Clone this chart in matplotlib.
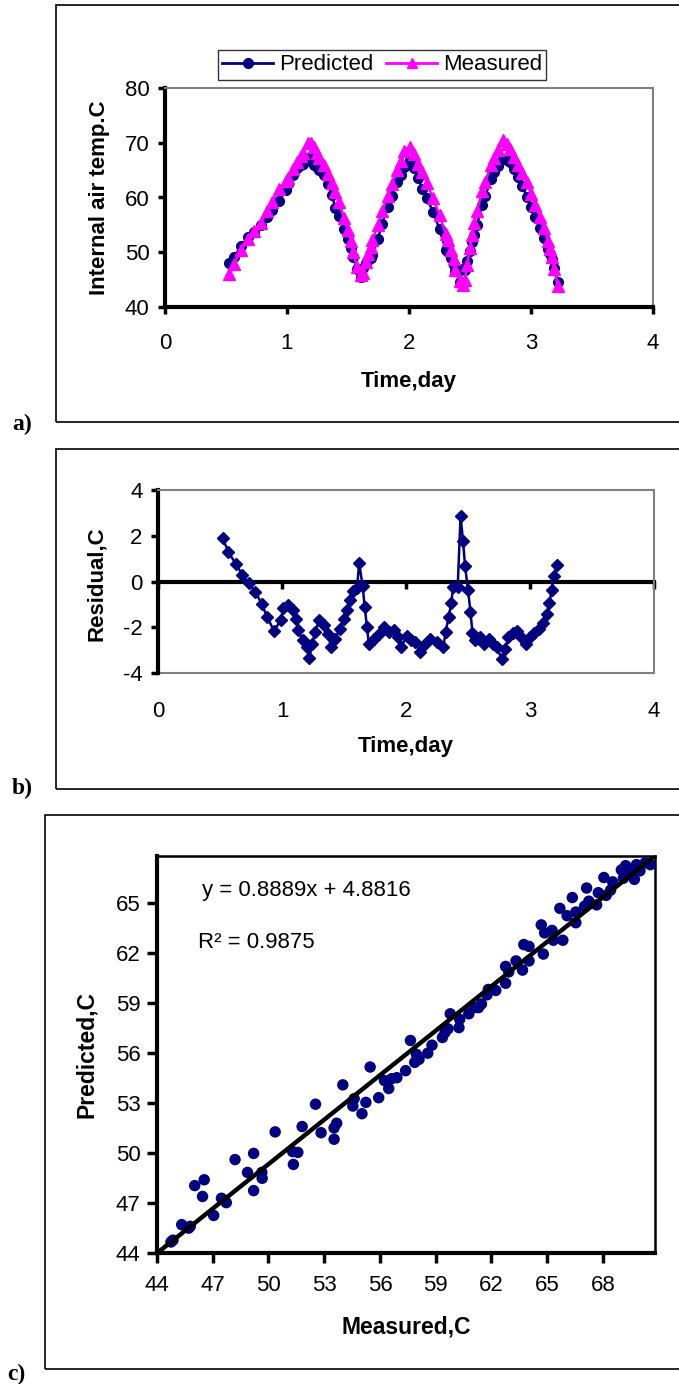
import numpy as np
import matplotlib
matplotlib.use("Agg")
import matplotlib.pyplot as plt
from matplotlib.lines import Line2D
from matplotlib.patches import Rectangle

plt.rcParams["font.family"] = ["Liberation Sans", "DejaVu Sans"]
plt.rcParams["axes.unicode_minus"] = False

# --- data --------------------------------------------------------------------
time_day = [0.523, 0.568, 0.627, 0.680, 0.730, 0.785, 0.837, 0.880, 0.935, 0.990,
            1.010, 1.046, 1.085, 1.116, 1.130, 1.170, 1.200, 1.220, 1.245, 1.266,
            1.300, 1.336, 1.370, 1.395, 1.430, 1.465, 1.500, 1.524, 1.545, 1.570,
            1.605, 1.622, 1.650, 1.667, 1.685, 1.700, 1.744, 1.780, 1.824, 1.860,
            1.900, 1.936, 1.960, 2.005, 2.040, 2.075, 2.110, 2.145, 2.197, 2.250,
            2.300, 2.320, 2.344, 2.365, 2.380, 2.417, 2.440, 2.460, 2.476, 2.500,
            2.520, 2.536, 2.557, 2.600, 2.626, 2.670, 2.700, 2.730, 2.773, 2.800,
            2.826, 2.860, 2.895, 2.930, 2.965, 3.000, 3.035, 3.070, 3.104, 3.140,
            3.157, 3.174, 3.190, 3.220]

measured = [46.1, 47.9, 50.4, 52.5, 53.8, 55.4, 57.5, 59.2, 61.6, 63.0,
            63.6, 65.2, 66.5, 67.6, 68.2, 69.9, 70.0, 69.2, 68.2, 67.3,
            65.9, 64.3, 62.7, 61.0, 59.1, 56.3, 54.0, 52.0, 50.0, 47.3,
            45.8, 46.3, 48.2, 49.6, 51.0, 52.2, 54.9, 57.5, 60.3, 62.5,
            65.0, 66.6, 68.5, 69.3, 67.9, 66.2, 64.6, 62.7, 59.9, 56.8,
            53.4, 52.2, 50.5, 48.7, 46.8, 44.8, 44.0, 45.0, 47.7, 50.7,
            53.2, 55.4, 57.6, 61.1, 62.9, 65.9, 67.3, 68.7, 70.5, 69.8,
            68.8, 67.4, 65.9, 64.5, 62.8, 60.7, 58.6, 56.5, 54.4, 52.0,
            50.6, 49.2, 47.0, 43.8]

predicted = [48.0, 49.2, 51.2, 52.8, 53.7, 55.0, 56.5, 57.7, 59.4, 61.3,
             62.4, 64.2, 65.3, 66.0, 66.1, 67.3, 67.1, 65.9, 65.5, 65.1,
             64.2, 62.4, 60.4, 58.1, 56.6, 54.2, 52.4, 50.8, 49.2, 46.9,
             45.5, 47.1, 48.0, 48.5, 49.0, 49.5, 52.4, 55.2, 58.3, 60.3,
             62.9, 64.2, 65.6, 66.9, 65.3, 63.6, 61.5, 59.9, 57.4, 54.2,
             50.5, 50.0, 49.0, 47.7, 46.6, 44.6, 46.9, 46.8, 48.4, 50.3,
             51.9, 53.2, 55.0, 58.7, 60.2, 63.4, 64.6, 65.8, 67.1, 66.9,
             66.4, 65.2, 63.7, 62.1, 60.1, 58.3, 56.4, 54.4, 52.6, 50.6,
             49.6, 48.8, 47.2, 44.5]

residual = [1.88, 1.28, 0.78, 0.29, -0.07, -0.44, -0.99, -1.54, -2.16, -1.69,
            -1.18, -1.03, -1.25, -1.62, -2.13, -2.57, -2.87, -3.34, -2.72, -2.20,
            -1.69, -1.91, -2.28, -2.87, -2.50, -2.06, -1.62, -1.25, -0.81, -0.41,
            -0.29, 0.81, -0.19, -1.10, -1.99, -2.72, -2.50, -2.28, -2.01, -2.20,
            -2.13, -2.43, -2.87, -2.40, -2.57, -2.65, -3.09, -2.79, -2.50, -2.65,
            -2.87, -2.20, -1.54, -0.96, -0.22, -0.22, 2.87, 1.76, 0.69, -0.37,
            -1.32, -2.25, -2.57, -2.43, -2.75, -2.50, -2.72, -2.87, -3.38, -2.94,
            -2.43, -2.25, -2.16, -2.43, -2.72, -2.43, -2.25, -2.06, -1.81, -1.40,
            -0.96, -0.37, 0.22, 0.74]

scatter_measured = [44.75, 44.86, 45.33, 45.70, 45.79, 46.03, 46.45, 46.54, 47.05, 47.47,
                    47.73, 48.20, 48.87, 49.20, 49.20, 49.64, 49.66, 50.36, 51.30, 51.34,
                    51.58, 51.81, 52.53, 52.83, 53.53, 53.67, 53.53, 54.00, 54.54, 54.61,
                    55.03, 55.24, 55.47, 55.93, 56.24, 56.47, 56.63, 56.91, 57.38, 57.64,
                    57.87, 57.96, 58.10, 58.57, 58.80, 59.36, 59.50, 59.66, 59.78, 60.25,
                    60.29, 60.78, 61.06, 61.30, 61.46, 61.76, 61.83, 62.23, 62.76, 62.76,
                    62.93, 63.32, 63.67, 63.74, 64.02, 64.02, 64.79, 64.68, 64.86, 65.26,
                    65.33, 65.84, 65.68, 66.07, 66.35, 66.54, 66.54, 67.01, 67.12, 67.24,
                    67.66, 67.75, 68.05, 68.17, 68.41, 68.52, 68.99, 69.10, 69.45, 69.69,
                    69.80, 69.99, 70.27, 70.55, 69.22]
scatter_predicted = [44.66, 44.77, 45.70, 45.49, 45.60, 48.04, 47.39, 48.39, 46.25, 47.28,
                     47.02, 49.60, 48.83, 49.97, 47.74, 48.83, 48.48, 51.26, 50.08, 49.31,
                     50.03, 51.58, 52.92, 51.21, 51.50, 51.78, 50.82, 54.08, 52.81, 53.25,
                     52.35, 53.03, 55.15, 53.31, 54.34, 53.86, 54.45, 54.51, 54.93, 56.74,
                     55.43, 55.91, 55.61, 55.98, 56.46, 56.92, 57.22, 57.44, 58.34, 57.51,
                     58.01, 58.34, 58.71, 58.71, 58.93, 59.48, 59.80, 59.74, 60.17, 61.18,
                     60.85, 61.51, 60.96, 62.49, 62.38, 61.51, 61.92, 63.67, 63.19, 63.34,
                     62.75, 62.75, 64.66, 64.22, 65.31, 64.44, 63.80, 64.79, 65.88, 65.09,
                     64.87, 65.60, 66.51, 65.44, 65.75, 66.25, 66.97, 66.47, 66.91, 66.40,
                     67.28, 66.91, 67.39, 67.28, 67.22]

fit_slope = 0.8889
fit_intercept = 4.8816
r_squared = 0.9875

NAVY = "#000080"
MAGENTA = "#FF00FF"
GREY = "#808080"
TICK_FS = 16

W, H = 679, 1384


def box(l, t, r, b):
    return [l / W, 1 - b / H, (r - l) / W, (b - t) / H]


fig = plt.figure(figsize=(W / 100, H / 100), dpi=100, facecolor="white")

# outer frames round each panel
for (l, t, b) in [(56, 5, 422), (56, 449, 789), (45, 815, 1369)]:
    fig.patches.append(Rectangle((l / W, 1 - b / H), 1.2, (b - t) / H,
                                 transform=fig.transFigure, fill=False,
                                 edgecolor="black", linewidth=1.2))

for lab, x, y in [("a)", 22, 424), ("b)", 22, 788), ("c)", 16, 1374)]:
    fig.text(x / W, 1 - y / H, lab, family=["Liberation Serif", "DejaVu Serif"],
             weight="bold", fontsize=17, ha="center", va="center")


def excel_frame(ax):
    for s in ["top", "right"]:
        ax.spines[s].set_color(GREY)
        ax.spines[s].set_linewidth(1.5)
    ax.spines["left"].set_linewidth(3)
    ax.tick_params(axis="y", direction="out", length=5, width=2.5,
                   labelsize=TICK_FS, pad=6)


# --- a) internal air temperature ---------------------------------------------
ax_a = fig.add_axes(box(165, 88, 653, 307))
ax_a.plot(time_day, predicted, color=NAVY, lw=1.8, marker="o", ms=7,
          mec=NAVY, mfc=NAVY, zorder=3)
ax_a.plot(time_day, measured, color=MAGENTA, lw=1.8, marker="^", ms=8,
          mec=MAGENTA, mfc=MAGENTA, zorder=4)
ax_a.set_xlim(0, 4)
ax_a.set_ylim(40, 80)
ax_a.set_xticks([0, 1, 2, 3, 4])
ax_a.set_yticks([40, 50, 60, 70, 80])
excel_frame(ax_a)
ax_a.spines["bottom"].set_linewidth(3)
ax_a.tick_params(axis="x", direction="out", length=5, width=2.5,
                 labelsize=TICK_FS, pad=14)
ax_a.set_xlabel("Time,day", fontsize=16, weight="bold", va="center")
ax_a.xaxis.set_label_coords(0.5, -0.338)
ax_a.set_ylabel("Internal air temp.C", fontsize=16, weight="bold", va="center")
ax_a.yaxis.set_label_coords(-0.135, 0.5)

handles = [Line2D([], [], color=NAVY, lw=2, marker="o", ms=7, label="Predicted"),
           Line2D([], [], color=MAGENTA, lw=2, marker="^", ms=7, label="Measured")]
leg = fig.legend(handles=handles, loc="center", ncol=2,
                 bbox_to_anchor=(382 / W, 1 - 65 / H), fontsize=16,
                 frameon=True, fancybox=False, edgecolor="black",
                 handlelength=2.3, handletextpad=0.25, columnspacing=0.6,
                 borderpad=0.2, borderaxespad=0)
leg.get_frame().set_linewidth(1.0)

# --- b) residual --------------------------------------------------------------
ax_b = fig.add_axes(box(158, 490, 654, 673))
ax_b.plot(time_day, residual, color=NAVY, lw=1.8, marker="D", ms=6.5,
          mec=NAVY, mfc=NAVY, zorder=3)
ax_b.set_xlim(0, 4)
ax_b.set_ylim(-4, 4)
ax_b.set_xticks([0, 1, 2, 3, 4])
ax_b.set_yticks([-4, -2, 0, 2, 4])
excel_frame(ax_b)
ax_b.spines["bottom"].set_position(("data", 0))
ax_b.spines["bottom"].set_linewidth(3)
ax_b.spines["bottom"].set_zorder(2)
ax_b.tick_params(axis="x", direction="out", length=5, width=2.5,
                 labelbottom=False)
sec = ax_b.secondary_xaxis(0.0)
sec.set_xticks([0, 1, 2, 3, 4])
sec.spines["bottom"].set_color(GREY)
sec.spines["bottom"].set_linewidth(1.5)
sec.tick_params(axis="x", length=0, labelsize=TICK_FS, pad=20)
ax_b.set_xlabel("Time,day", fontsize=16, weight="bold", va="center")
ax_b.xaxis.set_label_coords(0.5, -0.404)
ax_b.set_ylabel("Residual,C", fontsize=16, weight="bold", va="center")
ax_b.yaxis.set_label_coords(-0.123, 0.486)

# --- c) predicted vs measured -------------------------------------------------
ax_c = fig.add_axes(box(157, 856, 655, 1253))
ax_c.scatter(scatter_measured, scatter_predicted, s=68, color=NAVY,
             edgecolor="none", zorder=3, clip_on=False)
ax_c.set_xlim(44, 70.8)
ax_c.set_ylim(44, 67.8)
fit_x = np.array(ax_c.get_xlim())
ax_c.plot(fit_x, fit_slope * fit_x + fit_intercept, color="black", lw=3.2,
          zorder=4, solid_capstyle="butt")
ax_c.set_xticks(np.arange(44, 70, 3))
ax_c.set_yticks(np.arange(44, 66, 3))
for s in ["top", "right"]:
    ax_c.spines[s].set_linewidth(1.8)
for s in ["left", "bottom"]:
    ax_c.spines[s].set_linewidth(3)
ax_c.tick_params(axis="both", direction="out", length=7, width=2.5,
                 labelsize=TICK_FS)
ax_c.tick_params(axis="x", pad=9)
ax_c.tick_params(axis="y", pad=5)
ax_c.set_xlabel("Measured,C", fontsize=16.5, weight="bold", va="center")
ax_c.xaxis.set_label_coords(0.5, -0.186)
ax_c.set_ylabel("Predicted,C", fontsize=16.5, weight="bold", va="center")
ax_c.yaxis.set_label_coords(-0.141, 0.5)
ax_c.text(0.09, 0.914, f"y = {fit_slope:.4f}x + {fit_intercept:.4f}",
          transform=ax_c.transAxes, fontsize=16, va="center", ha="left")
ax_c.text(0.082, 0.783, f"R\u00b2 = {r_squared:.4f}",
          transform=ax_c.transAxes, fontsize=16, va="center", ha="left")

fig.savefig("out.png", dpi=100, facecolor="white")
